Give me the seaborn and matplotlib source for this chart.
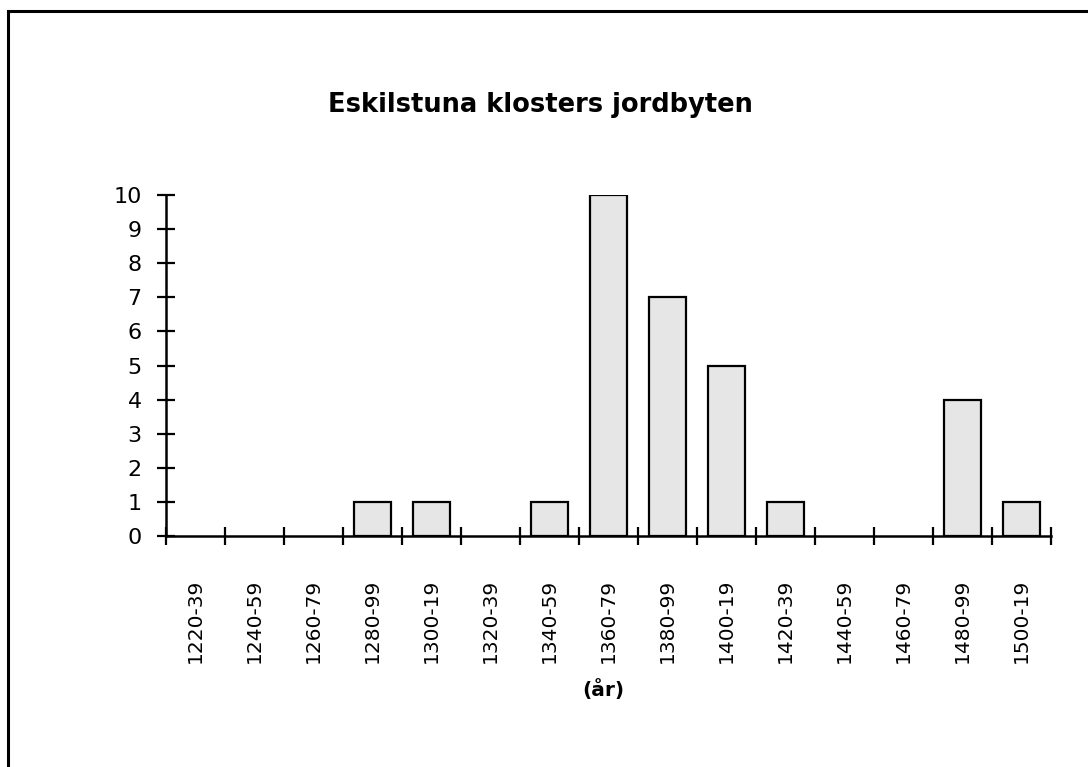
import matplotlib
matplotlib.use("Agg")
import matplotlib.pyplot as plt
import matplotlib.patches as mpatches
import seaborn as sns
import pandas as pd
import numpy as np

# perioder och antal jordbyten
perioder = ["1220-39", "1240-59", "1260-79", "1280-99", "1300-19", "1320-39",
            "1340-59", "1360-79", "1380-99", "1400-19", "1420-39", "1440-59",
            "1460-79", "1480-99", "1500-19"]
antal = [0, 0, 0, 1, 1, 0, 1, 10, 7, 5, 1, 0, 0, 4, 1]

df = pd.DataFrame({"period": perioder, "antal": antal})

sns.set_style("white")
plt.rcParams["font.family"] = ["DejaVu Sans"]
plt.rcParams["text.color"] = "black"
plt.rcParams["xtick.color"] = "black"
plt.rcParams["ytick.color"] = "black"

fig = plt.figure(figsize=(10.88, 7.67), dpi=100)
ax = fig.add_axes([166 / 1088, 1 - 536 / 767, (1051 - 166) / 1088, (536 - 195) / 767])

nonzero = df.copy()
nonzero.loc[nonzero["antal"] == 0, "antal"] = np.nan
sns.barplot(data=nonzero, x="period", y="antal", order=perioder, ax=ax,
            color="#e6e6e6", edgecolor="black", linewidth=1.6, width=0.62,
            saturation=1)

ax.set_xlim(-0.5, len(perioder) - 0.5)
ax.set_ylim(0, 10)
ax.set_yticks(range(0, 11))
ax.set_xticks(range(len(perioder)))
ax.set_xticklabels(perioder, rotation=90, fontsize=14.5)
ax.set_xticks(np.arange(-0.5, len(perioder)), minor=True)
ax.tick_params(bottom=True, left=True, which="both")
ax.tick_params(axis="x", which="major", length=0, pad=31)
ax.tick_params(axis="x", which="minor", direction="inout", length=13, width=1.6)
ax.tick_params(axis="y", direction="inout", length=13, width=1.6, labelsize=16, pad=11)
ax.set_xlabel("")
ax.set_ylabel("")

for side in ["top", "right"]:
    ax.spines[side].set_visible(False)
for side in ["left", "bottom"]:
    ax.spines[side].set_color("black")
    ax.spines[side].set_linewidth(1.8)

fig.text(540 / 1088, 1 - 105 / 767, "Eskilstuna klosters jordbyten",
         ha="center", va="center", fontsize=18.5, fontweight="bold")
fig.text(603 / 1088, 1 - 690 / 767, "(år)", ha="center", va="center",
         fontsize=14.5, fontweight="bold")

# ram runt diagrammet
ram = mpatches.Rectangle((8 / 1088, -0.1), 1.2, 1.1 - 11 / 767, transform=fig.transFigure,
                         fill=False, edgecolor="black", linewidth=2.2, clip_on=False)
fig.patches.append(ram)

fig.savefig("out.png", dpi=100)
